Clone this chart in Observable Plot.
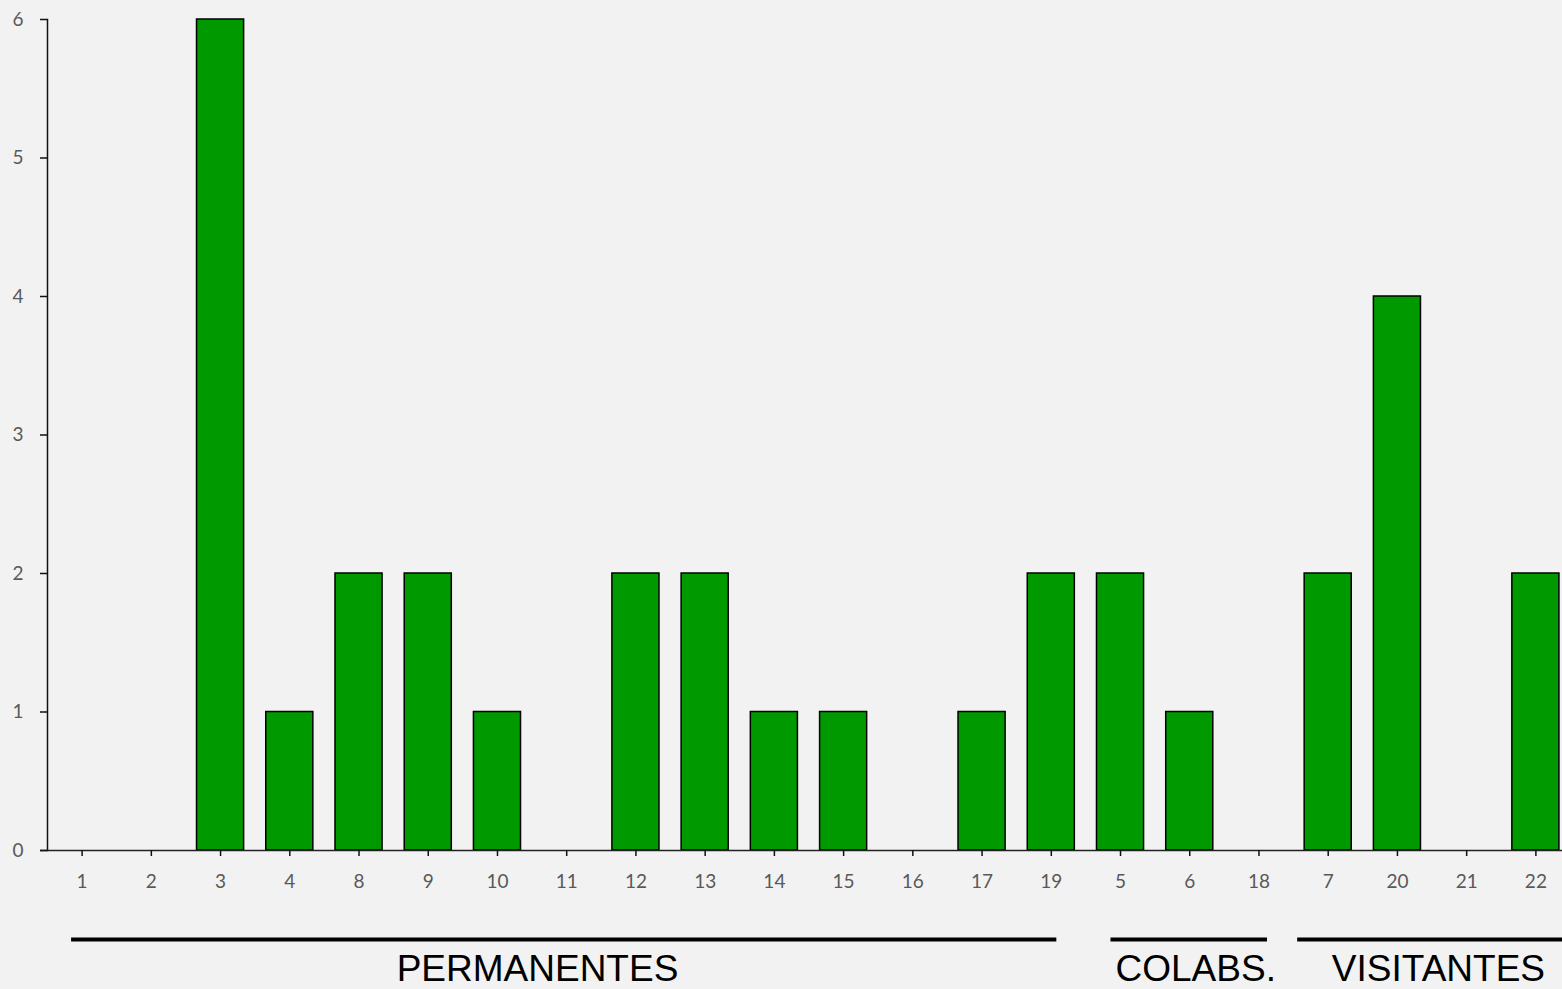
<!DOCTYPE html>
<html><head><meta charset="utf-8">
<script src="https://cdn.jsdelivr.net/npm/d3@7"></script>
<script src="https://cdn.jsdelivr.net/npm/@observablehq/plot@0.6"></script>
<style>html,body{margin:0;padding:0;background:#f2f2f2;overflow:hidden}svg{overflow:hidden}</style>
</head><body><div id="chart"></div>
<script>
const categories = ["1","2","3","4","8","9","10","11","12","13","14","15","16","17","19","5","6","18","7","20","21","22"];
const values = [0,0,6,1,2,2,1,0,2,2,1,1,0,1,2,2,1,0,2,4,0,2];
const yTicks = [0,1,2,3,4,5,6];
const groupNames = ["PERMANENTES","COLABS.","VISITANTES"];
const groupFirst = ["1","5","7"];
const groupLast = ["19","18","22"];
const groupLabelAt = ["10","6","20"];
const groupLabelShift = [40, 6, 41];
const groupLineInsets = [[13, 18], [14, 15], [-7, -6]];

const data = categories.map((c, i) => ({cat: c, value: values[i]}));
const groups = groupNames.map((g, i) => ({name: g, first: groupFirst[i], last: groupLast[i], at: groupLabelAt[i]}));

const font = "Lato, 'Open Sans', sans-serif";
const chart = Plot.plot({
  width: 1562,
  height: 989,
  marginTop: 19,
  marginBottom: 139,
  marginLeft: 47,
  marginRight: -8,
  style: {background: "#f2f2f2", fontFamily: font, overflow: "hidden"},
  x: {domain: categories, paddingInner: 0.32, paddingOuter: 0.16, round: false, label: null},
  y: {domain: [0, 6], label: null},
  marks: [
    Plot.barY(data, {filter: d => d.value > 0, x: "cat", y: "value", fill: "#009900", stroke: "#000", strokeWidth: 1.5}),
    Plot.frame({anchor: "left", stroke: "#111", strokeWidth: 1.5}),
    Plot.ruleY([0], {stroke: "#222", strokeWidth: 1.5, insetLeft: -7}),
    Plot.axisY({ticks: yTicks, tickSize: 7, tickPadding: 17, fontSize: 19, fill: "#595959", stroke: "#111", strokeWidth: 1.5, tickFormat: d => String(d), label: null}),
    Plot.axisX({tickSize: 6, tickPadding: 18, fontSize: 19, fill: "#595959", stroke: "#111", strokeWidth: 1.5, label: null}),
    ...groups.map((g, i) => Plot.ruleY([g], {x1: "first", x2: "last", y: 0, dy: 89, insetLeft: groupLineInsets[i][0], insetRight: groupLineInsets[i][1], stroke: "#000", strokeWidth: 4})),
    ...groups.map((g, i) => Plot.text([g], {x: "at", y: 0, text: "name", dy: 119, dx: groupLabelShift[i], fontSize: 37, fill: "#000", fontFamily: "'Liberation Sans', Arial, sans-serif"}))
  ]
});
document.getElementById("chart").append(chart);
</script>
</body></html>
